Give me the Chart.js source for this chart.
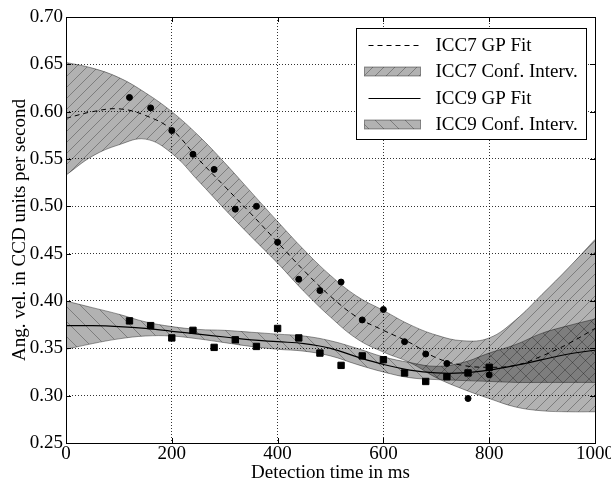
<!DOCTYPE html>
<html>
<head>
<meta charset="utf-8">
<script src="https://cdn.jsdelivr.net/npm/chart.js@4.4.1/dist/chart.umd.min.js"></script>
<style>
  html, body { margin: 0; padding: 0; background: #fff; }
</style>
</head>
<body>
<canvas id="gp-chart" width="611" height="485"></canvas>
<script>
// GP fit curves, sampled every 50 ms
const fitTimes  = [0, 50, 100, 150, 200, 250, 300, 350, 400, 450, 500, 550, 600, 650, 700, 750, 800, 850, 900, 950, 1000];
const icc7Fit   = [0.593, 0.600, 0.603, 0.596, 0.581, 0.550, 0.521, 0.492, 0.462, 0.432, 0.405, 0.383, 0.369, 0.356, 0.340, 0.332, 0.330, 0.332, 0.342, 0.355, 0.371];
const icc7Upper = [0.652, 0.646, 0.636, 0.620, 0.600, 0.575, 0.546, 0.515, 0.484, 0.454, 0.427, 0.405, 0.390, 0.375, 0.364, 0.358, 0.361, 0.380, 0.407, 0.435, 0.465];
const icc7Lower = [0.533, 0.553, 0.565, 0.571, 0.556, 0.527, 0.497, 0.468, 0.440, 0.410, 0.383, 0.360, 0.346, 0.335, 0.319, 0.307, 0.297, 0.288, 0.284, 0.283, 0.283];
const icc9Fit   = [0.374, 0.374, 0.373, 0.371, 0.368, 0.365, 0.362, 0.359, 0.357, 0.355, 0.350, 0.341, 0.333, 0.327, 0.324, 0.324, 0.327, 0.332, 0.338, 0.344, 0.348];
const icc9Upper = [0.400, 0.393, 0.386, 0.378, 0.373, 0.370, 0.369, 0.367, 0.365, 0.363, 0.358, 0.350, 0.341, 0.335, 0.331, 0.335, 0.345, 0.354, 0.366, 0.374, 0.381];
const icc9Lower = [0.349, 0.355, 0.360, 0.363, 0.363, 0.360, 0.356, 0.352, 0.349, 0.347, 0.342, 0.333, 0.325, 0.319, 0.317, 0.316, 0.315, 0.314, 0.314, 0.314, 0.314];

// measured points
const obsTimes = [120, 160, 200, 240, 280, 320, 360, 400, 440, 480, 520, 560, 600, 640, 680, 720, 760, 800];
const icc7Obs  = [0.615, 0.604, 0.580, 0.555, 0.539, 0.497, 0.500, 0.462, 0.423, 0.411, 0.420, 0.380, 0.391, 0.357, 0.344, 0.334, 0.297, 0.322];
const icc9Obs  = [0.379, 0.374, 0.361, 0.369, 0.351, 0.359, 0.352, 0.371, 0.361, 0.345, 0.332, 0.342, 0.338, 0.324, 0.315, 0.320, 0.324, 0.330];

const xTicks = [0, 200, 400, 600, 800, 1000];
const yTicks = [0.25, 0.30, 0.35, 0.40, 0.45, 0.50, 0.55, 0.60, 0.65, 0.70];
const legendLabels = ['ICC7 GP Fit', 'ICC7 Conf. Interv.', 'ICC9 GP Fit', 'ICC9 Conf. Interv.'];

const FONT = { family: "'Liberation Serif', 'Times New Roman', serif", size: 19 };

function hatch(dir, step) {
  const c = document.createElement('canvas');
  c.width = step; c.height = step;
  const g = c.getContext('2d');
  g.fillStyle = 'rgba(0,0,0,0.3)';
  g.fillRect(0, 0, step, step);
  g.strokeStyle = 'rgba(0,0,0,0.3)';
  g.lineWidth = 1;
  g.beginPath();
  for (let k = -1; k <= 1; k++) {
    if (dir === '/') { g.moveTo(k * step, step); g.lineTo(k * step + step, 0); }
    else { g.moveTo(k * step, 0); g.lineTo(k * step + step, step); }
  }
  g.stroke();
  return g.createPattern(c, 'repeat');
}

const pat7 = hatch('/', 11);
const pat9 = hatch('\\', 15);
const bandEdge = 'rgba(0,0,0,0.4)';

const pts = (xs, ys) => xs.map((x, i) => ({ x: x, y: ys[i] }));

// frame, inward ticks and matplotlib-like legend box
const decor = {
  id: 'decor',
  afterDatasetsDraw(chart) {
    const { ctx, chartArea: a, scales } = chart;
    ctx.save();
    ctx.strokeStyle = '#000';
    ctx.lineWidth = 1;
    ctx.beginPath();
    xTicks.forEach(v => {
      const px = Math.round(scales.x.getPixelForValue(v)) + 0.5;
      ctx.moveTo(px, a.bottom); ctx.lineTo(px, a.bottom - 5);
      ctx.moveTo(px, a.top); ctx.lineTo(px, a.top + 5);
    });
    yTicks.forEach(v => {
      const py = Math.round(scales.y.getPixelForValue(v)) + 0.5;
      ctx.moveTo(a.left, py); ctx.lineTo(a.left + 5, py);
      ctx.moveTo(a.right, py); ctx.lineTo(a.right - 5, py);
    });
    ctx.stroke();
    ctx.strokeRect(Math.round(a.left) + 0.5, Math.round(a.top) + 0.5,
                   Math.round(a.right - a.left), Math.round(a.bottom - a.top));

    // legend
    const w = 230, h = 111;
    const lx = Math.round(a.right - 9 - w) + 0.5, ly = Math.round(a.top + 11) + 0.5;
    ctx.fillStyle = '#fff';
    ctx.fillRect(lx, ly, w, h);
    ctx.strokeRect(lx, ly, w, h);
    const rows = [16, 42.5, 69, 95];
    ctx.font = FONT.size + 'px ' + FONT.family;
    ctx.textBaseline = 'middle';
    rows.forEach((dy, i) => {
      const cy = Math.round(ly + dy);
      if (i === 0 || i === 2) {
        ctx.save();
        ctx.setLineDash(i === 0 ? [5, 4] : []);
        ctx.beginPath();
        ctx.moveTo(lx + 12, cy + 0.5); ctx.lineTo(lx + 64, cy + 0.5);
        ctx.stroke();
        ctx.restore();
      } else {
        ctx.fillStyle = i === 1 ? pat7 : pat9;
        ctx.fillRect(lx + 8, cy - 4, 56, 9);
        ctx.save();
        ctx.strokeStyle = bandEdge;
        ctx.strokeRect(lx + 8, cy - 4, 56, 9);
        ctx.restore();
      }
      ctx.fillStyle = '#000';
      ctx.fillText(legendLabels[i], lx + 79, cy + 1);
    });
    ctx.restore();
  }
};

new Chart(document.getElementById('gp-chart'), {
  type: 'line',
  data: {
    datasets: [
      { label: 'ICC7 data', data: pts(obsTimes, icc7Obs), showLine: false, pointStyle: 'circle',
        pointRadius: 3, backgroundColor: '#000', borderColor: '#000', order: 0 },
      { label: 'ICC9 data', data: pts(obsTimes, icc9Obs), showLine: false, pointStyle: 'rect',
        pointRadius: 4.5, backgroundColor: '#000', borderColor: '#000', order: 0 },
      { label: legendLabels[0], data: pts(fitTimes, icc7Fit), borderColor: '#000', borderWidth: 1,
        borderDash: [5, 4], pointRadius: 0, tension: 0.4, fill: false, order: 1 },
      { label: legendLabels[2], data: pts(fitTimes, icc9Fit), borderColor: '#000', borderWidth: 1.2,
        pointRadius: 0, tension: 0.4, fill: false, order: 1 },
      { label: legendLabels[1], data: pts(fitTimes, icc7Upper), fill: '+1', backgroundColor: pat7,
        borderColor: bandEdge, borderWidth: 1, pointRadius: 0, tension: 0.4, order: 2 },
      { label: 'ICC7 lower', data: pts(fitTimes, icc7Lower), fill: false,
        borderColor: bandEdge, borderWidth: 1, pointRadius: 0, tension: 0.4, order: 2 },
      { label: legendLabels[3], data: pts(fitTimes, icc9Upper), fill: '+1', backgroundColor: pat9,
        borderColor: bandEdge, borderWidth: 1, pointRadius: 0, tension: 0.4, order: 2 },
      { label: 'ICC9 lower', data: pts(fitTimes, icc9Lower), fill: false,
        borderColor: bandEdge, borderWidth: 1, pointRadius: 0, tension: 0.4, order: 2 }
    ]
  },
  options: {
    responsive: false,
    animation: false,
    layout: { padding: { top: 17, right: 16, bottom: 0, left: 0 } },
    plugins: { legend: { display: false }, tooltip: { enabled: false } },
    scales: {
      x: {
        type: 'linear', min: 0, max: 1000,
        afterBuildTicks: s => { s.ticks = xTicks.map(v => ({ value: v })); },
        afterFit: s => { s.height = 42; s.paddingLeft = 0; s.paddingRight = 0; },
        ticks: { color: '#000', font: FONT, padding: 0, maxRotation: 0, callback: v => String(v) },
        grid: { color: 'rgba(0,0,0,0.8)', lineWidth: 1, drawTicks: false },
        border: { display: false, dash: [1, 2] },
        title: { display: true, text: 'Detection time in ms', color: '#000', font: FONT, padding: { top: 0, bottom: 1 } }
      },
      y: {
        min: 0.25, max: 0.70,
        afterBuildTicks: s => { s.ticks = yTicks.map(v => ({ value: v })); },
        afterFit: s => { s.width = 66; s.paddingTop = 0; s.paddingBottom = 0; },
        ticks: { color: '#000', font: FONT, padding: 3, callback: v => v.toFixed(2) },
        grid: { color: 'rgba(0,0,0,0.8)', lineWidth: 1, drawTicks: false },
        border: { display: false, dash: [1, 2] },
        title: { display: true, text: 'Ang. vel. in CCD units per second', color: '#000', font: FONT, padding: { top: 9, bottom: 0 } }
      }
    }
  },
  plugins: [decor]
});
</script>
</body>
</html>
